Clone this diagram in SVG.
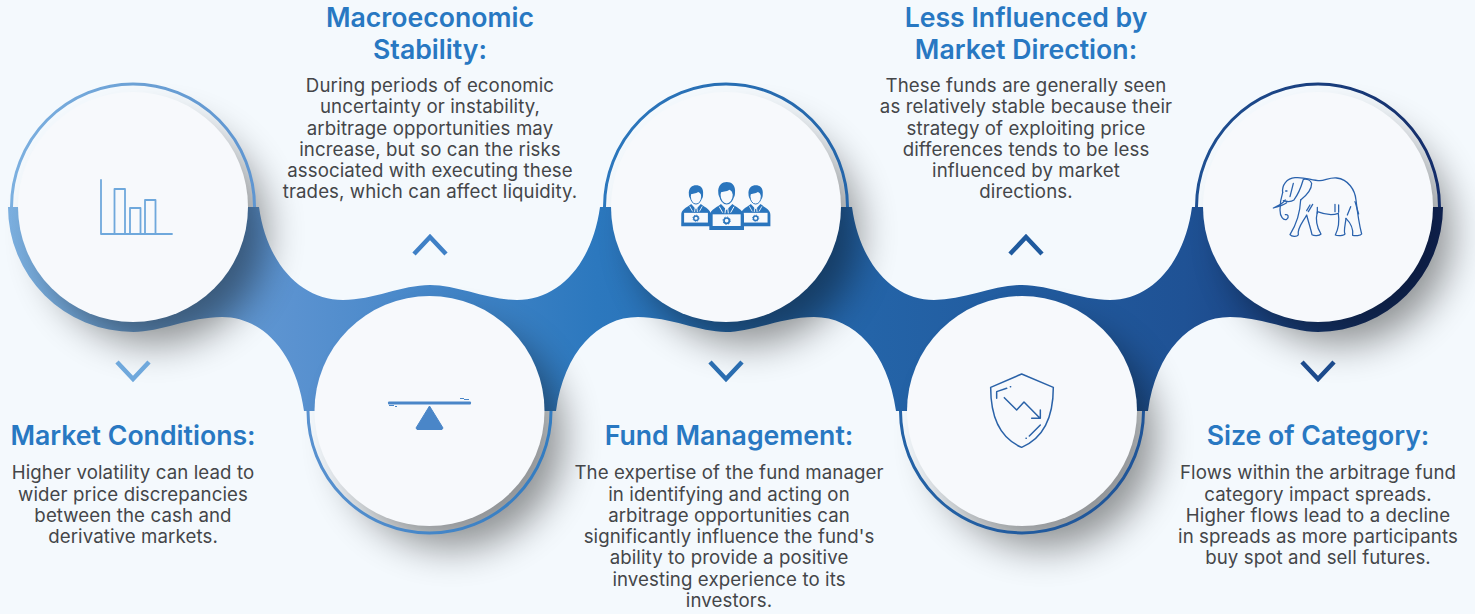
<svg xmlns="http://www.w3.org/2000/svg" width="1475" height="614" viewBox="0 0 1475 614">
<style>
text{font-family:Inter,"Noto Sans","Liberation Sans",sans-serif;text-anchor:middle}
.t{font-size:26.67px;font-weight:600;fill:#2878c2}
.b{font-size:18.67px;font-weight:400;letter-spacing:.1px;fill:#444649}
.disc{fill:#f7f9fc}
.chev{fill:none;stroke-width:4.5}
.ring{fill:none;stroke:url(#rib);stroke-width:3}
.ic{fill:none;stroke-linecap:round;stroke-linejoin:round}
</style>
<defs>
<linearGradient id="rib" gradientUnits="userSpaceOnUse" x1="8" y1="0" x2="1443" y2="0">
<stop offset="0" stop-color="#7cb0e0"/>
<stop offset=".1" stop-color="#6a9fd4"/>
<stop offset=".2" stop-color="#5a92d0"/>
<stop offset=".41" stop-color="#2c78be"/>
<stop offset=".6" stop-color="#2464a8"/>
<stop offset=".82" stop-color="#1f5295"/>
<stop offset="1" stop-color="#142c68"/>
</linearGradient>
<filter id="soft" x="-40%" y="-40%" width="180%" height="180%"><feGaussianBlur stdDeviation="19"/></filter>
<g id="person">
<path fill="#2a75bd" d="M-52 110V70C-52 52-36 46-17 32L0 50 17 32C36 46 52 52 52 70V110Z"/>
<path fill="none" stroke="#f7f9fc" stroke-width="3" d="M-22 40-12 58M22 40 12 58M-3 44-5 60M3 44 5 60"/>
<ellipse cx="0" cy="4" rx="20" ry="28" fill="#f7f9fc" stroke="#2a75bd" stroke-width="3.500"/>
<path fill="#2a75bd" d="M-25 0C-28-26-12-34 0-34 14-34 28-26 25 0 25 8 22 13 19 15 22 1 16-7 8-11 0-5-14-5-19-3-21 3-20 9-19 15-22 11-25 6-25 0Z"/>
<rect x="-42" y="63" width="84" height="35" fill="#f7f9fc"/>
<rect x="-50" y="98" width="100" height="10" rx="3" fill="#2a75bd"/>
<circle cx="0" cy="82" r="8" fill="none" stroke="#2a75bd" stroke-width="5"/>
<circle cx="0" cy="82" r="11" fill="none" stroke="#2a75bd" stroke-width="3" stroke-dasharray="4 4.6"/>
</g>
</defs>
<rect width="1475" height="614" fill="#f4f9fd"/>

<g id="connectors">
<path id="ribbon" fill="url(#rib)" d="M8 207A125.500 125 0 0 0 133.500 332C160 332 190 317 222 317C262 317 296 352 304 411H556C564 352 598 317 638 317C670 317 700 332 726 332C752 332 782 317 814 317C854 317 888 352 896 411H1148C1156 352 1190 317 1230 317C1262 317 1292 332 1318 332A125.500 125 0 0 0 1443 207H1192C1184 265 1150 300 1110 300C1080 300 1050 285 1022 285C994 285 964 300 934 300C894 300 860 265 852 207H600C592 265 558 300 517 300C487 300 458 285 430 285C402 285 373 300 343 300C302 300 267 265 259 207Z"/>
</g>

<g id="shadows" filter="url(#soft)" fill="#000" opacity=".42">
<circle cx="155" cy="233" r="111"/>
<circle cx="452" cy="437" r="111"/>
<circle cx="748" cy="233" r="111"/>
<circle cx="1044" cy="437" r="111"/>
<circle cx="1340" cy="233" r="111"/>
</g>

<g id="rings">
<path class="ring" d="M11.500 207A121.500 123 0 0 1 254.500 207"/>
<path class="ring" d="M308 411A121.500 122 0 0 0 551 411"/>
<path class="ring" d="M604.500 207A121.500 123 0 0 1 847.500 207"/>
<path class="ring" d="M900.500 411A121.500 122 0 0 0 1143.500 411"/>
<path class="ring" d="M1196.500 207A121.500 123 0 0 1 1439.500 207"/>
</g>

<g id="node-market-conditions">
<circle class="disc" cx="133" cy="207" r="115"/>
<g class="ic" stroke="#6fa8dc" stroke-width="1.800"><path d="M101 180V234H172"/><path d="M114.500 233V189H125V233M130 233V208H140.500V233M145 233V200H155.500V233"/></g>
<polyline class="chev" stroke="#6fa8dc" points="117,362 133,379 149,362"/>
<text class="t" x="133" y="445">Market Conditions:</text>
<text class="b" x="133" y="479">Higher volatility can lead to</text>
<text class="b" x="133" y="500.500">wider price discrepancies</text>
<text class="b" x="133" y="522">between the cash and</text>
<text class="b" x="133" y="543">derivative markets.</text>
</g>

<g id="node-macroeconomic-stability">
<circle class="disc" cx="429.500" cy="411" r="115"/>
<rect x="388" y="401.500" width="83" height="3" rx="1" fill="#4a86c8"/>
<path d="M429.500 406 443 428 442 429.500H417L416 428Z" fill="#4a86c8" stroke="#4a86c8" stroke-linejoin="round"/>
<path d="M389 405.500H394M395 406.500H397M460 398.500H464M464 399.500H469" stroke="#4a86c8" fill="none"/>
<polyline class="chev" stroke="#3f80c6" points="414,254 430,237 446,254"/>
<text class="t" x="430" y="27">Macroeconomic</text>
<text class="t" x="430" y="59">Stability:</text>
<text class="b" x="430" y="92">During periods of economic</text>
<text class="b" x="430" y="113">uncertainty or instability,</text>
<text class="b" x="430" y="135">arbitrage opportunities may</text>
<text class="b" x="430" y="156">increase, but so can the risks</text>
<text class="b" x="430" y="177">associated with executing these</text>
<text class="b" x="430" y="198">trades, which can affect liquidity.</text>
</g>

<g id="node-fund-management">
<circle class="disc" cx="726" cy="207" r="115"/>
<g transform="translate(640 160) scale(.3333)">
<use href="#person" transform="translate(168 105) scale(.85)"/>
<use href="#person" transform="translate(347 105) scale(.85)"/>
<use href="#person" transform="translate(260 100)"/>
</g>
<polyline class="chev" stroke="#2a6db0" points="710,362 726,379 742,362"/>
<text class="t" x="729" y="445">Fund Management:</text>
<text class="b" x="729" y="479">The expertise of the fund manager</text>
<text class="b" x="729" y="500.500">in identifying and acting on</text>
<text class="b" x="729" y="522">arbitrage opportunities can</text>
<text class="b" x="729" y="543">significantly influence the fund's</text>
<text class="b" x="729" y="564">ability to provide a positive</text>
<text class="b" x="729" y="586">investing experience to its</text>
<text class="b" x="729" y="607">investors.</text>
</g>

<g id="node-less-influenced">
<circle class="disc" cx="1022" cy="411" r="115"/>
<g class="ic" stroke="#2a62a8" stroke-width="4.500" transform="translate(960 360) scale(.3333)">
<path d="M185 42 280 82C280 170 250 235 185 262 120 235 92 170 92 82Z"/>
<path d="M110 115V95L140 85M151 80H152M133 113 170 150 192 126 240 175M241 150V175H215M208 228 241 195M198 235H199"/>
</g>
<polyline class="chev" stroke="#1f5a9e" points="1010,254 1026,237 1042,254"/>
<text class="t" x="1026" y="27">Less Influenced by</text>
<text class="t" x="1026" y="59">Market Direction:</text>
<text class="b" x="1026" y="92">These funds are generally seen</text>
<text class="b" x="1026" y="113">as relatively stable because their</text>
<text class="b" x="1026" y="135">strategy of exploiting price</text>
<text class="b" x="1026" y="156">differences tends to be less</text>
<text class="b" x="1026" y="177">influenced by market</text>
<text class="b" x="1026" y="198">directions.</text>
</g>

<g id="node-size-of-category">
<circle class="disc" cx="1318" cy="207" r="115"/>
<g class="ic" stroke="#2a62ad" stroke-width="3.800" transform="translate(1240 150) scale(.3333)">
<path d="M128 128C125 105 140 85 165 83 195 80 215 92 240 92 255 92 268 82 290 84 325 88 345 120 348 150 352 185 358 225 365 252 362 258 345 258 338 256 340 240 335 222 318 205"/>
<path d="M318 205C316 225 310 245 315 252 312 258 292 258 286 255 296 235 298 210 295 190 275 197 250 192 232 185 226 210 232 235 243 252 238 258 222 258 216 254 212 235 205 215 200 195 190 215 170 235 175 255 170 262 155 260 150 254 165 230 180 195 182 150"/>
<path d="M182 150C195 140 215 120 215 100 212 90 200 85 190 88 185 105 180 125 162 150 150 158 140 155 130 152"/>
<path d="M128 128C124 140 120 160 120 180 120 200 130 212 140 208 148 202 145 192 136 194"/>
<path d="M136 150C130 158 115 168 100 174 115 170 130 166 140 158"/>
<path d="M150 140 160 100M137 123H141M205 185 218 163M200 182 210 165M232 172V190M285 163V185M296 165V187M345 155C350 170 352 180 356 192M332 170 322 195"/>
</g>
<polyline class="chev" stroke="#1c4a8c" points="1302,362 1318,379 1334,362"/>
<text class="t" x="1318" y="445">Size of Category:</text>
<text class="b" x="1318" y="479">Flows within the arbitrage fund</text>
<text class="b" x="1318" y="500.500">category impact spreads.</text>
<text class="b" x="1318" y="522">Higher flows lead to a decline</text>
<text class="b" x="1318" y="543">in spreads as more participants</text>
<text class="b" x="1318" y="564">buy spot and sell futures.</text>
</g>
</svg>
